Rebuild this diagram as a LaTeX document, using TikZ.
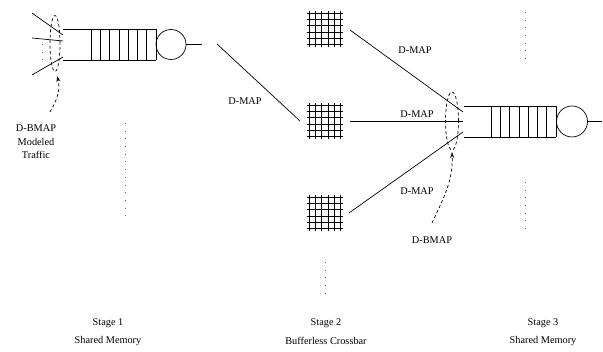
\documentclass[tikz,border=0pt]{standalone}
\usepackage{fontspec}
\setmainfont{Liberation Serif}
\usetikzlibrary{arrows.meta,shapes.geometric}
\begin{document}
\begin{tikzpicture}[x=1pt,y=-1pt,
  line width=0.7pt,
  lbl/.style={font=\fontsize{10.3}{12}\selectfont, inner sep=0pt},
  dotv/.style={line width=0.9pt, dash pattern=on 0.7pt off 7pt, black!60},
  dashl/.style={dash pattern=on 3pt off 2.5pt},
  xbar/.style={minimum size=36pt, inner sep=0pt}
]
\useasboundingbox (0,0) rectangle (603,352);

% ---------- Stage 1 queue ----------
\coordinate (q1tl) at (63,29);
\coordinate (q1bl) at (63,60);
\draw (q1tl) -- (156,29);
\draw (q1bl) -- (156,60);
\foreach \k in {0,...,7} { \draw (91+\k*9.29,29) -- (91+\k*9.29,60); }
\node[circle, draw, minimum size=30pt, inner sep=0pt] (srv1) at (171,44.5) {};
\coordinate (out1) at (202,44.5);
\draw (srv1.east) -- (out1);
% inputs
\coordinate (i1a) at (32,13); \coordinate (i1b) at (63,35);
\coordinate (i2a) at (32,38); \coordinate (i2b) at (63,41);
\coordinate (i3a) at (32,75); \coordinate (i3b) at (63,57);
\draw (i1a) -- (i1b);
\draw (i2a) -- (i2b);
\draw (i3a) -- (i3b);
\draw[dotv] (42,44) -- (42,64);
\node[draw, dashl, ellipse, minimum width=10pt, minimum height=56pt, inner sep=0pt] (ell1) at (55,43.5) {};
\coordinate (a1s) at (50,112);
\coordinate (a1e) at (57,76);
\draw[dashl, -{Stealth[length=6pt,width=4pt]}] (a1s) to[out=60,in=-75] (a1e);
\node[lbl, align=center] (bm1) at (36,142) {D-BMAP\\[1.5pt]Modeled\\[1.5pt]Traffic};
\draw[dotv] (125,123) -- (125,220);

% ---------- Stage 1 -> Stage 2 ----------
\coordinate (dm0s) at (217,44);
\node[xbar] (x1) at (325,29) {};
\node[xbar] (x2) at (325,121) {};
\node[xbar] (x3) at (325,213) {};
\coordinate (dm0e) at (300,121);
\draw (dm0s) -- (dm0e);
\node[lbl] (lab0) at (245,101) {D-MAP};

% crossbar grids
\foreach \c in {x1,x2,x3} {
  \foreach \o in {-15.75,-9.45,-3.15,3.15,9.45,15.75} {
    \draw[line width=0.8pt] ([shift={(\o,-18)}]\c.center) -- ([shift={(\o,18)}]\c.center);
    \draw[line width=0.8pt] ([shift={(-18,\o)}]\c.center) -- ([shift={(18,\o)}]\c.center);
  }
}
\draw[dotv] (325,262) -- (325,296);

% ---------- Stage 3 queue ----------
\coordinate (q3a) at (463,112);
\coordinate (q3b) at (463,121);
\coordinate (q3c) at (463,132);
\draw (464,106) -- (556,106);
\draw (464,137) -- (556,137);
\foreach \k in {0,...,7} { \draw (491+\k*9.29,106) -- (491+\k*9.29,137); }
\node[circle, draw, minimum size=31pt, inner sep=0pt] (srv3) at (572,121.5) {};
\coordinate (out3) at (602,121.5);
\draw (srv3.east) -- (out3);

\coordinate (x1o) at (350,30);
\coordinate (x2o) at (350,121);
\coordinate (x3o) at (349,213);
\draw (x1o) -- (q3a);
\draw (x2o) -- (q3b);
\draw (x3o) -- (q3c);
\node[lbl] (lab1) at (415,50) {D-MAP};
\node[lbl] (lab2) at (417,114) {D-MAP};
\node[lbl] (lab3) at (417,191) {D-MAP};

\node[draw, dashl, ellipse, minimum width=13pt, minimum height=58pt, inner sep=0pt] (ell3) at (452,121) {};
\coordinate (a3s) at (432,223);
\coordinate (a3e) at (452,152);
\draw[dashl, -{Stealth[length=6pt,width=4pt]}] (a3s) to[out=65,in=-88] (a3e);
\node[lbl] (bm3) at (432,240) {D-BMAP};

\draw[dotv] (525,12) -- (525,60);
\draw[dotv] (525,182) -- (525,230);

% ---------- bottom labels ----------
\node[lbl] (s1) at (108,323) {Stage 1};
\node[lbl] (m1) at (108,341) {Shared Memory};
\node[lbl] (s2) at (326,323) {Stage 2};
\node[lbl] (m2) at (326,341) {Bufferless Crossbar};
\node[lbl] (s3) at (543,323) {Stage 3};
\node[lbl] (m3) at (543,341) {Shared Memory};
\end{tikzpicture}
\end{document}
